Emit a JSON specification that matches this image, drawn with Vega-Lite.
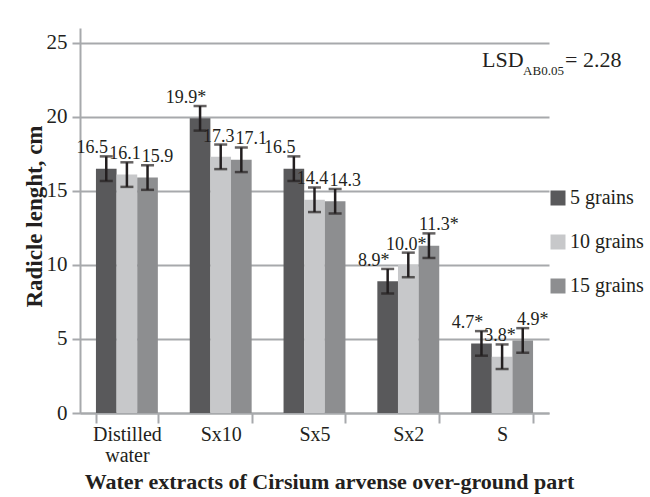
{
  "$schema": "https://vega.github.io/schema/vega-lite/v6.json",
  "width": 469,
  "height": 385,
  "autosize": {"type": "none"},
  "padding": {"left": 80, "top": 28, "right": 101, "bottom": 84},
  "background": "white",
  "config": {
    "font": "Liberation Serif",
    "view": {"stroke": null},
    "axis": {"labelFont": "Liberation Serif", "titleFont": "Liberation Serif"},
    "legend": {"labelFont": "Liberation Serif"},
    "text": {"font": "Liberation Serif"}
  },
  "layer": [
    {
      "data": {"values": [
        {"extract": "Distilled water", "grains": "5 grains", "value": 16.5, "lo": 15.67, "hi": 17.33, "label": "16.5"},
        {"extract": "Distilled water", "grains": "10 grains", "value": 16.1, "lo": 15.27, "hi": 16.93, "label": "16.1"},
        {"extract": "Distilled water", "grains": "15 grains", "value": 15.9, "lo": 15.07, "hi": 16.73, "label": "15.9"},
        {"extract": "Sx10", "grains": "5 grains", "value": 19.9, "lo": 19.07, "hi": 20.73, "label": "19.9*"},
        {"extract": "Sx10", "grains": "10 grains", "value": 17.3, "lo": 16.47, "hi": 18.13, "label": "17.3"},
        {"extract": "Sx10", "grains": "15 grains", "value": 17.1, "lo": 16.27, "hi": 17.93, "label": "17.1"},
        {"extract": "Sx5", "grains": "5 grains", "value": 16.5, "lo": 15.67, "hi": 17.33, "label": "16.5"},
        {"extract": "Sx5", "grains": "10 grains", "value": 14.4, "lo": 13.57, "hi": 15.23, "label": "14.4"},
        {"extract": "Sx5", "grains": "15 grains", "value": 14.3, "lo": 13.47, "hi": 15.13, "label": "14.3"},
        {"extract": "Sx2", "grains": "5 grains", "value": 8.9, "lo": 8.07, "hi": 9.73, "label": "8.9*"},
        {"extract": "Sx2", "grains": "10 grains", "value": 10.0, "lo": 9.17, "hi": 10.83, "label": "10.0*"},
        {"extract": "Sx2", "grains": "15 grains", "value": 11.3, "lo": 10.47, "hi": 12.13, "label": "11.3*"},
        {"extract": "S", "grains": "5 grains", "value": 4.7, "lo": 3.87, "hi": 5.53, "label": "4.7*"},
        {"extract": "S", "grains": "10 grains", "value": 3.8, "lo": 2.97, "hi": 4.63, "label": "3.8*"},
        {"extract": "S", "grains": "15 grains", "value": 4.9, "lo": 4.07, "hi": 5.73, "label": "4.9*"}
      ]},
      "encoding": {
        "x": {
          "field": "extract", "type": "nominal",
          "sort": ["Distilled water", "Sx10", "Sx5", "Sx2", "S"],
          "scale": {"paddingInner": 0.34, "paddingOuter": 0.17},
          "axis": {
            "title": "Water extracts of Cirsium arvense over-ground part",
            "titleFontSize": 22, "titleFontWeight": "bold", "titleColor": "#231f20",
            "titleX": 249, "titleY": 75, "titleBaseline": "alphabetic", "titleAlign": "center",
            "labelAngle": 0, "labelFontSize": 20, "labelColor": "#231f20",
            "labelExpr": "datum.label == 'Distilled water' ? ['Distilled', 'water'] : datum.label",
            "labelLineHeight": 21, "labelPadding": 1, "labelBaseline": "top",
            "tickBand": "extent", "tickSize": 10, "tickColor": "#a7a9ac", "tickWidth": 2,
            "domainColor": "#a7a9ac", "domainWidth": 2, "grid": false
          }
        },
        "xOffset": {"field": "grains", "type": "nominal", "sort": ["5 grains", "10 grains", "15 grains"], "scale": {"paddingInner": 0, "paddingOuter": 0}}
      },
      "layer": [
        {
          "mark": {"type": "bar"},
          "encoding": {
            "y": {
              "field": "value", "type": "quantitative",
              "scale": {"domain": [0, 25]},
              "axis": {
                "values": [0, 5, 10, 15, 20, 25],
                "title": "Radicle lenght, cm",
                "titleFontSize": 23, "titleFontWeight": "bold", "titleColor": "#231f20",
                "titleX": -46, "titleY": 188, "titleAngle": -90, "titleAlign": "center", "titleBaseline": "middle",
                "labelFontSize": 21, "labelColor": "#231f20", "labelPadding": 5,
                "tickSize": 8, "tickColor": "#a7a9ac", "tickWidth": 2,
                "domainColor": "#a7a9ac", "domainWidth": 2,
                "grid": true, "gridColor": "#a7a9ac", "gridWidth": 2
              }
            },
            "color": {
              "field": "grains", "type": "nominal",
              "sort": ["5 grains", "10 grains", "15 grains"],
              "scale": {"range": ["#59595b", "#c7c8ca", "#8d8e90"]},
              "legend": {
                "title": null, "orient": "none", "legendX": 468, "legendY": 160,
                "symbolType": "square", "symbolSize": 225, "symbolStrokeWidth": 0,
                "labelFontSize": 20, "labelColor": "#231f20", "labelOffset": 2, "rowPadding": 24
              }
            }
          }
        },
        {
          "mark": {"type": "rule", "color": "#231f20", "strokeWidth": 2.5},
          "encoding": {"y": {"field": "lo", "type": "quantitative"}, "y2": {"field": "hi"}}
        },
        {
          "mark": {"type": "tick", "color": "#231f20", "thickness": 2.5, "size": 13},
          "encoding": {"y": {"field": "lo", "type": "quantitative"}}
        },
        {
          "mark": {"type": "tick", "color": "#231f20", "thickness": 2.5, "size": 13},
          "encoding": {"y": {"field": "hi", "type": "quantitative"}}
        },
        {
          "transform": [{"filter": "datum.grains == '5 grains'"}],
          "mark": {"type": "text", "font": "Liberation Serif", "fontSize": 18, "color": "#231f20", "baseline": "alphabetic", "dy": -3, "dx": -14},
          "encoding": {"y": {"field": "hi", "type": "quantitative"}, "text": {"field": "label"}}
        },
        {
          "transform": [{"filter": "datum.grains == '10 grains'"}],
          "mark": {"type": "text", "font": "Liberation Serif", "fontSize": 18, "color": "#231f20", "baseline": "alphabetic", "dy": -3, "dx": -2},
          "encoding": {"y": {"field": "hi", "type": "quantitative"}, "text": {"field": "label"}}
        },
        {
          "transform": [{"filter": "datum.grains == '15 grains'"}],
          "mark": {"type": "text", "font": "Liberation Serif", "fontSize": 18, "color": "#231f20", "baseline": "alphabetic", "dy": -3, "dx": 10},
          "encoding": {"y": {"field": "hi", "type": "quantitative"}, "text": {"field": "label"}}
        }
      ]
    },
    {
      "data": {"values": [{"note": "LSD"}]},
      "layer": [
        {
          "mark": {"type": "text", "font": "Liberation Serif", "fontSize": 22, "color": "#231f20", "align": "left", "baseline": "alphabetic", "dx": -20},
          "encoding": {"x": {"datum": "S"}, "y": {"datum": 23.38}, "text": {"value": "LSD"}}
        },
        {
          "mark": {"type": "text", "font": "Liberation Serif", "fontSize": 13, "color": "#231f20", "align": "left", "baseline": "alphabetic", "dx": 21},
          "encoding": {"x": {"datum": "S"}, "y": {"datum": 22.8}, "text": {"value": "AB0.05"}}
        },
        {
          "mark": {"type": "text", "font": "Liberation Serif", "fontSize": 22, "color": "#231f20", "align": "left", "baseline": "alphabetic", "dx": 63},
          "encoding": {"x": {"datum": "S"}, "y": {"datum": 23.38}, "text": {"value": "= 2.28"}}
        }
      ]
    }
  ]
}
